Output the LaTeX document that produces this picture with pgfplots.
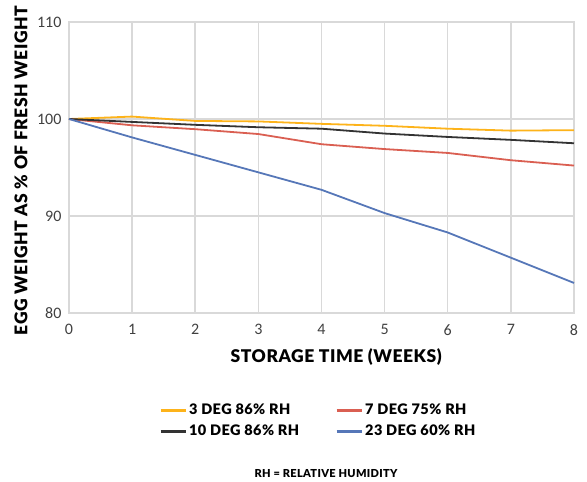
\documentclass[border=0pt]{standalone}
\usepackage{fontspec}
\setmainfont{Carlito}
\newfontfamily\heavy{Lato Black}[LetterSpace=3]
\usepackage{pgfplots}
\pgfplotsset{compat=1.18}
\definecolor{cyel}{HTML}{FDB31A}
\definecolor{cred}{HTML}{DA5F52}
\definecolor{cblk}{HTML}{333333}
\definecolor{cblu}{HTML}{5677B8}
\definecolor{cgrid}{HTML}{D9D9D9}
\definecolor{ctick}{HTML}{404040}
\begin{document}
\begin{tikzpicture}
\path[use as bounding box] (-69pt,-169pt) rectangle (518pt,313pt);
\begin{axis}[
  at={(0pt,0pt)}, anchor=south west,
  scale only axis, width=505pt, height=291pt,
  xmin=0, xmax=8, ymin=80, ymax=110,
  xtick={0,...,8}, ytick={80,90,100,110},
  grid=major, major grid style={cgrid, line width=1.5pt},
  axis line style={cgrid, line width=1.5pt},
  major tick length=0pt,
  tick label style={font=\fontsize{16}{18}\selectfont, text=ctick},
  /pgf/number format/assume math mode=true,
  xticklabel style={yshift=-8pt},
  yticklabel style={xshift=-4pt},
  xlabel={\heavy STORAGE TIME (WEEKS)},
  ylabel={\heavy EGG WEIGHT AS \% OF FRESH WEIGHT},
  label style={font=\fontsize{17.5}{20}\selectfont, text=black},
  xlabel style={at={(axis description cs:0.529,0)}, anchor=north, yshift=-32pt},
  ylabel style={at={(axis description cs:0,0.49)}, anchor=south, yshift=38pt},
  legend columns=2,
  legend style={at={(axis description cs:0.178,-0.305)}, anchor=north west, draw=none, fill=none,
    font=\heavy\fontsize{14.5}{16}\selectfont, row sep=5pt, inner sep=0pt},
  legend cell align=left,
  /tikz/every even column/.append style={column sep=34pt},
  legend image code/.code={\draw[line width=3pt, #1] (0pt,0pt) -- (25pt,0pt);},
  every axis plot/.append style={line width=1.8pt, line join=round},
  clip=false,
]
\addplot[cyel] coordinates {(0,100) (1,100.25) (2,99.8) (3,99.75) (4,99.5) (5,99.3) (6,99.0) (7,98.8) (8,98.85)};
\addlegendentry{3 DEG 86\% RH}
\addplot[cred] coordinates {(0,100) (1,99.35) (2,98.95) (3,98.45) (4,97.4) (5,96.9) (6,96.5) (7,95.75) (8,95.2)};
\addlegendentry{7 DEG 75\% RH}
\addplot[cblk] coordinates {(0,100) (1,99.7) (2,99.4) (3,99.15) (4,99.0) (5,98.5) (6,98.15) (7,97.85) (8,97.5)};
\addlegendentry{10 DEG 86\% RH}
\addplot[cblu] coordinates {(0,100) (1,98.1) (2,96.3) (3,94.5) (4,92.7) (5,90.3) (6,88.3) (7,85.7) (8,83.1)};
\addlegendentry{23 DEG 60\% RH}
\node[font=\heavy\fontsize{11}{13}\selectfont] at (axis description cs:0.509,-0.553) {RH = RELATIVE HUMIDITY};
\end{axis}
\end{tikzpicture}
\end{document}
